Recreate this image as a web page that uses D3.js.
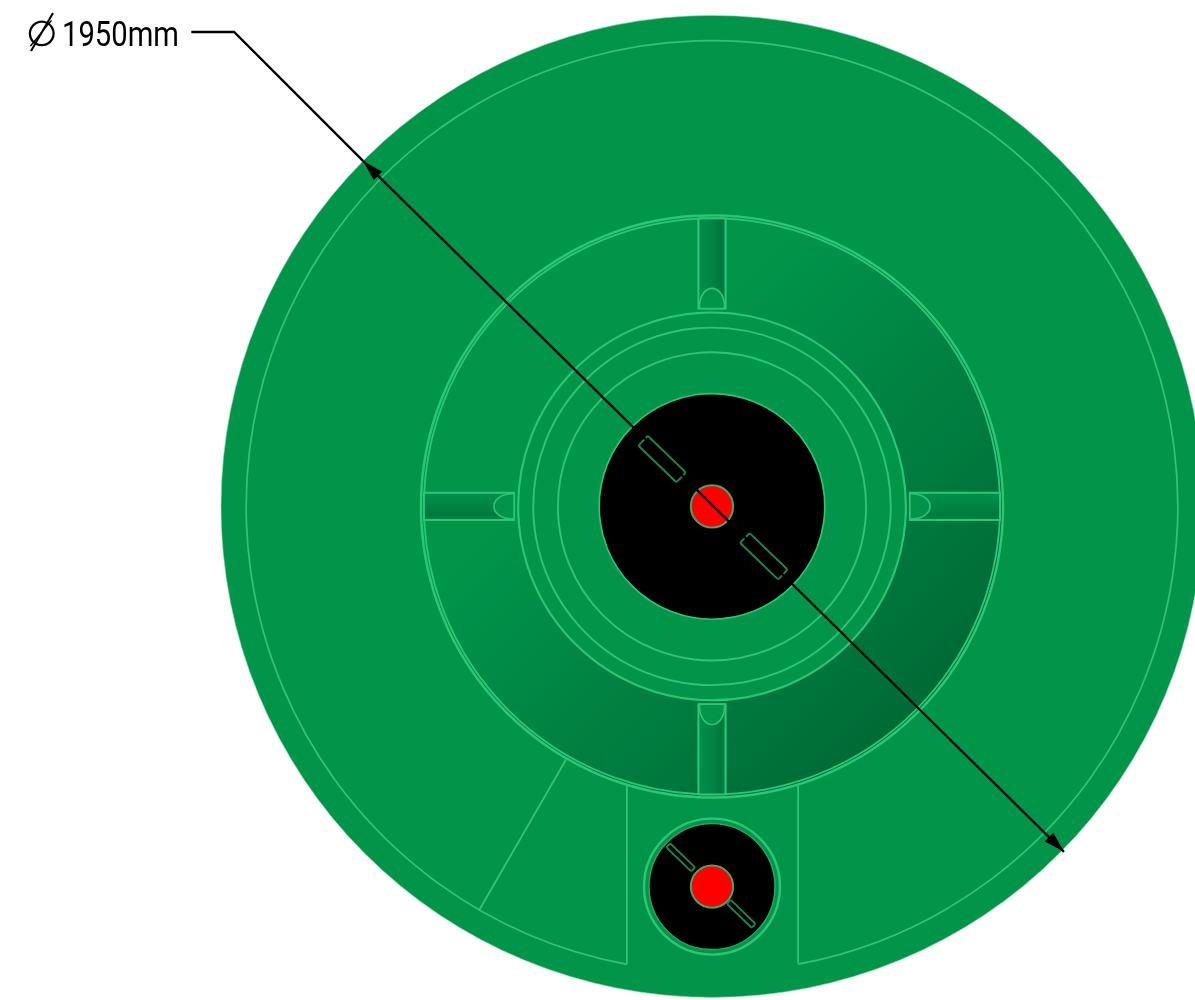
<!DOCTYPE html>
<html><head><meta charset="utf-8">
<script src="https://cdn.jsdelivr.net/npm/d3@7"></script>
<style>html,body{margin:0;padding:0;background:#fff;overflow:hidden}svg{display:block}</style>
</head><body><svg id="c" width="1195" height="1000"></svg>
<script>
// values in millimetres measured from the tank centre
const diameterText = "1950mm";
const diameterSymbol = "\u2205";
const outerRadius = [975];
const rimRadius = [925];
const wellRadii = [578, 572];
const stepRadii = [385, 355, 306];
const hatchRadius = [224];
const pipeRadius = [42];
const smallHatchCentre = [[0, 755]];
const smallHatchRadius = [125];
const smallCollarRadius = [135];
const ribAngles = [0, 90, 180, 270];
const ribSpan = [393, 572];
const ribHalfWidth = [27];
const ribArch = [399, 433];
const dividerLines = [
  [[-290, 503], [-463, 803]],
  [[-169, 553], [-169, 908]],
  [[171, 553], [171, 908]]
];
const rimGapX = [-169, 171];
const leaderPoints = [[-1034, -942], [-949, -942], [-693, -686]];
const dimensionEnds = [[-693, -686], [699, 686]];
const largeSlots = [[-99, -94], [103, 99]];
const largeSlotSize = [105, 27];
const smallSlots = [[-62, -58], [58, 54]];
const smallSlotSize = [69, 11];

const svg = d3.select("#c");
const x = d3.scaleLinear().domain([-975, 975]).range([221, 1203]);
const y = d3.scaleLinear().domain([-975, 975]).range([15.4, 997.4]);
const r = d3.scaleLinear().domain([0, 975]).range([0, 491]);
const GREEN = "#03954a", LINE = "#2cc776", SLOT = "#1b8550";

const defs = svg.append("defs");
const soft = defs.append("filter").attr("id", "soft").attr("filterUnits", "userSpaceOnUse")
  .attr("x", 0).attr("y", 0).attr("width", 1195).attr("height", 1000);
soft.append("feGaussianBlur").attr("stdDeviation", 0.55);
const root = svg.append("g").attr("filter", "url(#soft)");

const well = defs.append("linearGradient").attr("id", "well").attr("gradientUnits", "userSpaceOnUse")
  .attr("x1", 600).attr("y1", 350).attr("x2", 950).attr("y2", 700);
[[0.1, "#03954a"], [0.67, "#037a3e"], [0.93, "#026c36"]].forEach(s => well.append("stop").attr("offset", s[0]).attr("stop-color", s[1]));
const ribStops = [[0, "#049048"], [0.55, "#038342"], [0.85, "#03773c"], [1, "#048846"]];
const ribA = defs.append("linearGradient").attr("id", "ribA");
ribStops.forEach(s => ribA.append("stop").attr("offset", s[0]).attr("stop-color", s[1]));
const ribB = defs.append("linearGradient").attr("id", "ribB");
ribStops.slice().reverse().forEach(s => ribB.append("stop").attr("offset", 1 - s[0]).attr("stop-color", s[1]));

const circle = (cx, cy, rad, fill, stroke, sw) => root.append("circle")
  .attr("cx", x(cx)).attr("cy", y(cy)).attr("r", r(rad))
  .attr("fill", fill).attr("stroke", stroke).attr("stroke-width", sw);

// body
circle(0, 0, outerRadius[0], GREEN, "#8fdcb0", 0.6);

// rim with its gap at the bottom
const rimA = Math.asin(rimGapX[1] / rimRadius[0]);
const rimB = Math.asin(rimGapX[0] / rimRadius[0]);
root.append("path")
  .attr("transform", `translate(${x(0)},${y(0)})`)
  .attr("d", d3.arc()({ innerRadius: r(rimRadius[0]), outerRadius: r(rimRadius[0]),
    startAngle: Math.PI - rimA, endAngle: -Math.PI - rimB }))
  .attr("fill", "none").attr("stroke", LINE).attr("stroke-width", 1.7);

dividerLines.forEach(d => root.append("path").attr("d", d3.line().x(p => x(p[0])).y(p => y(p[1]))(d))
  .attr("fill", "none").attr("stroke", LINE).attr("stroke-width", 1.8));

// central well
circle(0, 0, wellRadii[0], "url(#well)", LINE, 2.4);
circle(0, 0, wellRadii[1], "none", LINE, 1.8);
circle(0, 0, stepRadii[0], GREEN, LINE, 2.1);
circle(0, 0, stepRadii[1], "none", LINE, 1.9);
circle(0, 0, stepRadii[2], "none", LINE, 1.9);

// ribs
ribAngles.forEach(a => {
  const g = root.append("g").attr("transform", `translate(${x(0)},${y(0)}) rotate(${a})`);
  const w = r(ribHalfWidth[0]), r0 = r(ribSpan[0]), r1 = r(ribSpan[1]);
  g.append("rect").attr("x", -w).attr("y", -r1).attr("width", 2 * w).attr("height", r1 - r0)
    .attr("fill", a < 180 ? "url(#ribA)" : "url(#ribB)").attr("stroke", LINE).attr("stroke-width", 2);
  const b = r(ribArch[0]), t = r(ribArch[1]);
  g.append("path").attr("d", `M${-w + 1},${-r0} L${-w + 1},${-b} C${-w * 0.8},${-b - (t - b) / 0.75} ${w * 0.8},${-b - (t - b) / 0.75} ${w - 1},${-b} L${w - 1},${-r0} Z`)
    .attr("fill", GREEN).attr("stroke", LINE).attr("stroke-width", 1.6);
});

// hatches
circle(0, 0, hatchRadius[0], "#000", LINE, 1.6);
const slot = (c, size, rx, sw) => root.append("rect")
  .attr("transform", `translate(${x(c[0])},${y(c[1])}) rotate(44)`)
  .attr("x", -r(size[0]) / 2).attr("y", -r(size[1]) / 2)
  .attr("width", r(size[0])).attr("height", r(size[1])).attr("rx", rx)
  .attr("fill", "none").attr("stroke", SLOT).attr("stroke-width", sw);

const sc = smallHatchCentre[0];
circle(sc[0], sc[1], smallCollarRadius[0], "none", LINE, 2.4);
circle(sc[0], sc[1], smallHatchRadius[0], "#000", "#2aa566", 1.4);

const arrow = (tip, from) => {
  const ang = Math.atan2(y(tip[1]) - y(from[1]), x(tip[0]) - x(from[0])) * 180 / Math.PI;
  root.append("path").attr("d", "M0,0 L-21,-6 L-21,6 Z").attr("fill", "#000")
    .attr("transform", `translate(${x(tip[0])},${y(tip[1])}) rotate(${ang})`);
};

circle(0, 0, pipeRadius[0], "#f00", "#3fa86e", 2);
circle(sc[0], sc[1], pipeRadius[0], "#f00", "#3fa86e", 2);
largeSlots.forEach(c => slot(c, largeSlotSize, 2, 2));
smallSlots.forEach(c => slot([c[0] + sc[0], c[1] + sc[1]], smallSlotSize, 2, 1.9));

const line = d3.line().x(p => x(p[0])).y(p => y(p[1]));
root.append("path").attr("d", line(leaderPoints)).attr("fill", "none").attr("stroke", "#000").attr("stroke-width", 2.3);
root.append("path").attr("d", line(dimensionEnds)).attr("fill", "none").attr("stroke", "#000").attr("stroke-width", 2.3);
arrow(dimensionEnds[0], dimensionEnds[1]);
arrow(dimensionEnds[1], dimensionEnds[0]);

// label
const label = root.append("text").attr("y", 46).attr("fill", "#000")
  .attr("font-family", "Roboto,sans-serif").attr("font-weight", 400);
label.append("tspan").attr("x", 26).attr("font-size", 36).attr("font-family", "'DejaVu Sans',sans-serif").text(diameterSymbol);
label.append("tspan").attr("x", 62).attr("font-size", 35)
  .attr("textLength", 117).attr("lengthAdjust", "spacingAndGlyphs").text(diameterText);
root.append("path").attr("d", "M31,51 L53,13").attr("stroke", "#000").attr("stroke-width", 2).attr("fill", "none");
</script></body></html>
